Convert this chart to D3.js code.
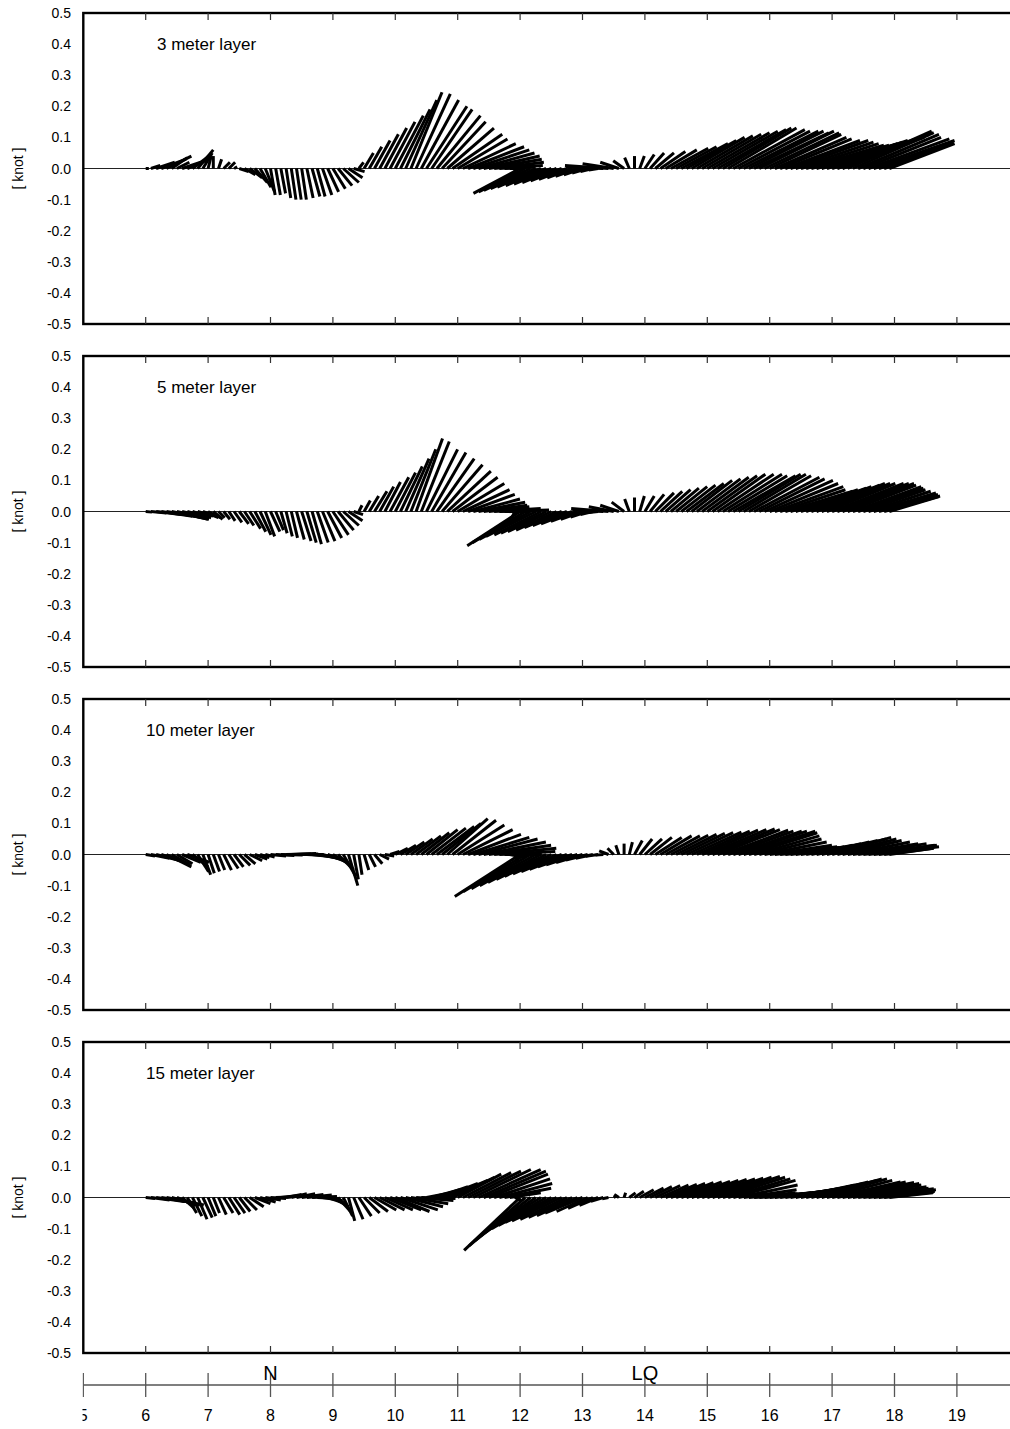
<!DOCTYPE html>
<html lang="en">
<head>
<meta charset="utf-8">
<title>Current stick plot</title>
<script src="https://cdn.jsdelivr.net/npm/d3@7"></script>
<style>
  body { margin: 0; background: #fff; }
  svg { display: block; font-family: "Liberation Sans", Arial, sans-serif; }
  .lbl { font-size: 14px; fill: #000; }
  .stick { stroke: #000; stroke-width: 3; }
</style>
</head>
<body>
<div id="chart"></div>
<script>

// data: one stick every 2 hours starting on day 6, u = east, v = north [knot]
const layers = ["3 meter layer", "5 meter layer", "10 meter layer", "15 meter layer"];
const startDay = 6, stepDay = 1 / 12;

const u3 = [
  .01,.03,.06,.08,.08,.05,.04,.06,.07,.06,.05,.03,
  .01,0,.01,.02,.02,.01,.03,.035,.04,.04,.035,.03,
  .015,.015,.015,.015,.015,.015,.015,.02,.025,.025,.03,.035,
  .04,.045,.05,.045,.035,.015,.03,.04,.05,.06,.07,.08,
  .09,.095,.1,.1,.11,.12,.13,.13,.14,.14,.15,.16,
  .16,.17,.18,.18,.18,.18,.17,.16,.14,.1,.05,0,
  -.15,-.15,-.15,-.145,-.14,-.13,-.12,-.11,-.1,-.09,-.08,-.07,
  -.06,-.05,-.04,-.03,-.12,-.14,-.1,-.06,-.035,-.015,0,.015,
  .03,.045,.06,.08,.1,.12,.13,.15,.16,.17,.18,.19,
  .2,.21,.22,.22,.22,.23,.23,.24,.24,.24,.24,.24,
  .23,.23,.23,.24,.25,.25,.25,.25,.25,.26,.26,.26,
  .27,.28,.28,.27,.26,.26,.25,.26,.26,.24,.22,.21
];
const v3 = [
  0,.01,.02,.03,.04,.035,.02,.02,.03,.045,.06,.05,
  .04,.04,.03,.02,.02,.005,-.01,-.02,-.03,-.045,-.06,-.075,
  -.085,-.085,-.08,-.095,-.1,-.1,-.1,-.095,-.09,-.09,-.085,-.075,
  -.065,-.055,-.045,-.03,-.01,.02,.05,.07,.09,.11,.13,.15,
  .17,.19,.22,.245,.24,.22,.2,.19,.17,.15,.13,.11,
  .095,.08,.07,.06,.05,.04,.03,.02,.01,.005,0,-.01,
  -.08,-.075,-.07,-.065,-.06,-.055,-.05,-.045,-.04,-.035,-.03,-.025,
  -.02,-.015,-.01,-.005,.005,.01,.015,.02,.025,.035,.04,.04,
  .045,.05,.05,.055,.06,.065,.07,.08,.09,.1,.105,.11,
  .115,.12,.125,.13,.13,.125,.12,.12,.12,.115,.12,.115,
  .11,.1,.095,.09,.09,.085,.08,.075,.075,.08,.085,.09,
  .095,.1,.11,.12,.115,.11,.1,.095,.09,.085,.08,.08
];

const u5 = [
  .02,.05,.08,.1,.12,.12,.1,.08,.07,.06,.05,.05,
  .04,.03,.02,.02,.02,.025,.03,.03,.035,.035,.035,.03,
  .03,.025,.02,.02,.02,.025,.03,.03,.03,.035,.04,.045,
  .05,.05,.05,.045,.03,.01,.02,.03,.04,.045,.05,.06,
  .065,.07,.075,.08,.085,.09,.1,.11,.12,.13,.14,.145,
  .15,.15,.15,.15,.15,.14,.13,.15,.16,.08,0,-.01,
  -.17,-.17,-.165,-.16,-.15,-.145,-.14,-.13,-.12,-.11,-.1,-.085,
  -.07,-.055,-.04,-.03,-.1,-.12,-.08,-.06,-.04,-.015,0,.015,
  .03,.045,.06,.07,.08,.09,.1,.11,.12,.13,.14,.15,
  .16,.17,.18,.19,.19,.2,.2,.2,.2,.21,.21,.22,
  .22,.22,.21,.2,.2,.2,.21,.21,.22,.22,.22,.22,
  .23,.23,.23,.22,.22,.21,.2,.2,.2,.19,.18,.16
];
const v5 = [
  -.002,-.005,-.01,-.015,-.02,-.025,-.025,-.02,-.02,-.02,-.015,-.02,
  -.02,-.025,-.02,-.025,-.03,-.035,-.04,-.045,-.055,-.065,-.075,-.08,
  -.065,-.06,-.07,-.08,-.085,-.09,-.095,-.1,-.105,-.1,-.095,-.085,
  -.075,-.06,-.045,-.03,-.01,.02,.035,.05,.065,.08,.095,.11,
  .125,.145,.17,.2,.235,.225,.2,.19,.17,.15,.13,.11,
  .09,.07,.055,.04,.03,.02,.015,.01,.005,0,-.005,-.02,
  -.11,-.1,-.09,-.08,-.075,-.07,-.065,-.06,-.052,-.045,-.04,-.032,
  -.025,-.018,-.01,-.003,.005,.01,.015,.02,.03,.04,.045,.05,
  .05,.055,.06,.065,.07,.075,.08,.085,.09,.1,.105,.11,
  .115,.12,.12,.12,.115,.115,.12,.12,.115,.11,.105,.1,
  .09,.08,.07,.06,.065,.07,.075,.08,.085,.09,.09,.09,
  .09,.09,.09,.085,.08,.075,.07,.065,.06,.055,.05,.048
];

const u10 = [
  .03,.06,.08,.09,.08,.06,.05,.06,.07,.05,.035,.025,
  .02,.02,.02,.025,.03,.03,.035,.035,.04,.04,.03,.03,
  .05,.06,.07,.08,.08,.07,.07,.06,.07,.07,.07,.065,
  .06,.05,.04,.03,.015,.01,.015,.02,.025,.03,.03,.03,
  .04,.05,.06,.07,.08,.09,.1,.11,.12,.125,.13,.14,
  .15,.16,.17,.18,.19,.2,.2,.2,.18,.12,.05,.01,
  -.21,-.2,-.19,-.18,-.17,-.16,-.15,-.14,-.13,-.12,-.11,-.1,
  -.085,-.07,-.055,-.04,-.025,-.03,-.02,-.01,0,.01,.025,.04,
  .055,.07,.085,.1,.11,.12,.13,.14,.15,.16,.17,.18,
  .19,.2,.2,.21,.21,.22,.22,.23,.22,.21,.2,.2,
  .2,.2,.19,.17,.15,.14,.14,.15,.16,.17,.18,.19,
  .19,.19,.19,.2,.21,.22,.23,.22,.21,.18,.16,.14
];
const v10 = [
  -.005,-.012,-.02,-.03,-.04,-.035,-.03,-.025,-.025,-.04,-.055,-.065,
  -.06,-.055,-.05,-.05,-.045,-.04,-.035,-.03,-.02,-.015,-.01,-.008,
  -.005,-.003,-.002,.002,.003,.002,0,-.003,-.008,-.012,-.018,-.025,
  -.035,-.05,-.07,-.1,-.08,-.065,-.05,-.04,-.03,-.015,-.005,.01,
  .02,.03,.04,.05,.06,.07,.08,.085,.09,.1,.115,.11,
  .095,.08,.065,.055,.05,.04,.03,.02,.01,0,-.01,-.025,
  -.135,-.12,-.11,-.1,-.09,-.08,-.07,-.062,-.055,-.048,-.04,-.033,
  -.026,-.018,-.012,-.006,-.002,.012,.02,.03,.035,.04,.045,.05,
  .05,.055,.055,.06,.06,.062,.065,.068,.07,.072,.075,.078,
  .08,.082,.08,.078,.075,.075,.075,.075,.07,.06,.05,.04,
  .03,.025,.022,.02,.02,.022,.025,.03,.035,.04,.045,.05,
  .055,.05,.045,.04,.035,.035,.03,.03,.025,.025,.02,.02
];

const u15 = [
  .03,.06,.09,.11,.12,.09,.06,.04,.03,.03,.03,.03,
  .025,.02,.025,.03,.035,.035,.035,.04,.045,.05,.05,.05,
  .05,.05,.05,.05,.05,.06,.07,.08,.08,.07,.065,.06,
  .05,.04,.03,.02,.03,.04,.05,.06,.07,.08,.09,.1,
  .11,.12,.12,.12,.12,.11,.08,.09,.1,.115,.13,.135,
  .14,.155,.17,.185,.2,.2,.19,.18,.17,.15,.1,.02,
  -.18,-.18,-.18,-.18,-.18,-.175,-.17,-.165,-.16,-.15,-.14,-.13,
  -.12,-.1,-.08,-.06,-.04,-.02,.01,-.015,.005,.02,.03,.045,
  .06,.07,.08,.09,.1,.11,.12,.13,.14,.15,.16,.17,
  .18,.19,.2,.2,.2,.2,.19,.17,.15,.14,.14,.15,
  .16,.17,.18,.18,.19,.19,.2,.2,.21,.21,.21,.21,
  .22,.22,.23,.23,.22,.22,.21,.21,.2,.18,.16,.14
];
const v15 = [
  -.003,-.008,-.013,-.018,-.024,-.025,-.025,-.035,-.05,-.06,-.07,-.065,
  -.06,-.05,-.055,-.05,-.055,-.05,-.045,-.04,-.03,-.02,-.015,-.008,
  -.003,.002,.006,.01,.012,.012,.01,.008,.003,-.003,-.01,-.02,
  -.03,-.045,-.06,-.075,-.07,-.06,-.05,-.045,-.04,-.04,-.04,-.04,
  -.045,-.04,-.03,-.02,-.01,-.003,.015,.025,.035,.045,.055,.065,
  .075,.08,.085,.09,.09,.085,.075,.06,.045,.03,.015,-.01,
  -.17,-.155,-.14,-.125,-.11,-.1,-.09,-.08,-.075,-.07,-.064,-.058,
  -.05,-.045,-.035,-.025,-.012,-.004,.006,.01,.015,.015,.02,.025,
  .03,.035,.038,.04,.042,.045,.048,.05,.052,.055,.058,.06,
  .062,.065,.068,.065,.06,.055,.04,.025,.015,.012,.012,.015,
  .018,.022,.026,.03,.035,.04,.045,.05,.055,.06,.06,.055,
  .05,.05,.048,.045,.04,.035,.03,.028,.025,.02,.018,.015
];

const dayTicks = [5,6,7,8,9,10,11,12,13,14,15,16,17,18,19,20];
const dayLabels = [5,6,7,8,9,10,11,12,13,14,15,16,17,18,19];
const phaseNames = ["N", "LQ"];
const phaseDays = [8, 14];

// layout
const W = 1010, H = 1429;
const panelTops = [13, 356, 699, 1042], panelH = 311;
const titleX = [157, 157, 146, 146];
const series = [[u3, v3], [u5, v5], [u10, v10], [u15, v15]];

const x = d3.scaleLinear().domain([5, 20]).range([83.3, 1019.3]);

const svg = d3.select("#chart").append("svg")
  .attr("width", W).attr("height", H)
  .attr("viewBox", [0, 0, W, H]);
svg.append("rect").attr("width", W).attr("height", H).attr("fill", "#fff");

layers.forEach(function(name, p) {
  const top = panelTops[p];
  const y = d3.scaleLinear().domain([-0.5, 0.5]).range([top + panelH, top]);
  const g = svg.append("g");

  g.append("line")
    .attr("x1", x(5)).attr("x2", x(20))
    .attr("y1", y(0)).attr("y2", y(0))
    .attr("stroke", "#222").attr("stroke-width", 1);

  const pts = series[p][0].map(function(u, i) {
    return { t: startDay + i * stepDay, u: u, v: series[p][1][i] };
  });

  g.selectAll("line.stick")
    .data(pts)
    .join("line")
    .attr("class", "stick")
    .attr("x1", d => x(d.t))
    .attr("y1", y(0))
    .attr("x2", d => x(d.t) + (y(0) - y(d.u)))   // same pixel scale for u and v
    .attr("y2", d => y(d.v));

  // frame
  g.append("rect")
    .attr("x", x(5)).attr("y", top)
    .attr("width", x(20) - x(5)).attr("height", panelH)
    .attr("fill", "none").attr("stroke", "#000").attr("stroke-width", 2.4);

  // inner ticks
  const inner = dayTicks.slice(1, -1);
  g.selectAll("line.tt").data(inner).join("line")
    .attr("x1", d => x(d)).attr("x2", d => x(d))
    .attr("y1", top).attr("y2", top + 7)
    .attr("stroke", "#333").attr("stroke-width", 1.2);
  g.selectAll("line.tb").data(inner).join("line")
    .attr("x1", d => x(d)).attr("x2", d => x(d))
    .attr("y1", top + panelH).attr("y2", top + panelH - 7)
    .attr("stroke", "#333").attr("stroke-width", 1.2);

  // y labels
  g.selectAll("text.yl").data(y.ticks(10)).join("text")
    .attr("class", "lbl")
    .attr("x", 71).attr("y", d => y(d))
    .attr("dy", "0.36em")
    .attr("text-anchor", "end")
    .text(d => d.toFixed(1));

  g.append("text")
    .attr("class", "lbl")
    .attr("transform", "translate(23," + y(0) + ") rotate(-90)")
    .attr("text-anchor", "middle")
    .text("[ knot ]");

  g.append("text")
    .attr("class", "lbl")
    .attr("x", titleX[p]).attr("y", top + 37)
    .style("font-size", "17px")
    .text(name);
});

// time axis at the bottom
svg.append("clipPath").attr("id", "axclip")
  .append("rect").attr("x", 82.5).attr("y", 1360).attr("width", W).attr("height", 69);

const ax = svg.append("g").attr("clip-path", "url(#axclip)");
const axY = 1385;
ax.append("line")
  .attr("x1", x(5)).attr("x2", x(20))
  .attr("y1", axY).attr("y2", axY)
  .attr("stroke", "#000").attr("stroke-width", 1.2);
ax.selectAll("line.at").data(dayTicks).join("line")
  .attr("x1", d => x(d)).attr("x2", d => x(d))
  .attr("y1", axY - 12).attr("y2", axY + 12)
  .attr("stroke", "#555").attr("stroke-width", 1.3);
ax.selectAll("text.al").data(dayLabels).join("text")
  .attr("x", d => x(d)).attr("y", 1421)
  .attr("text-anchor", "middle")
  .style("font-size", "16px")
  .text(d => d);

svg.selectAll("text.ph").data(phaseNames).join("text")
  .attr("x", (d, i) => x(phaseDays[i])).attr("y", 1380)
  .attr("text-anchor", "middle")
  .style("font-size", "20px")
  .text(d => d);

</script>
</body>
</html>
